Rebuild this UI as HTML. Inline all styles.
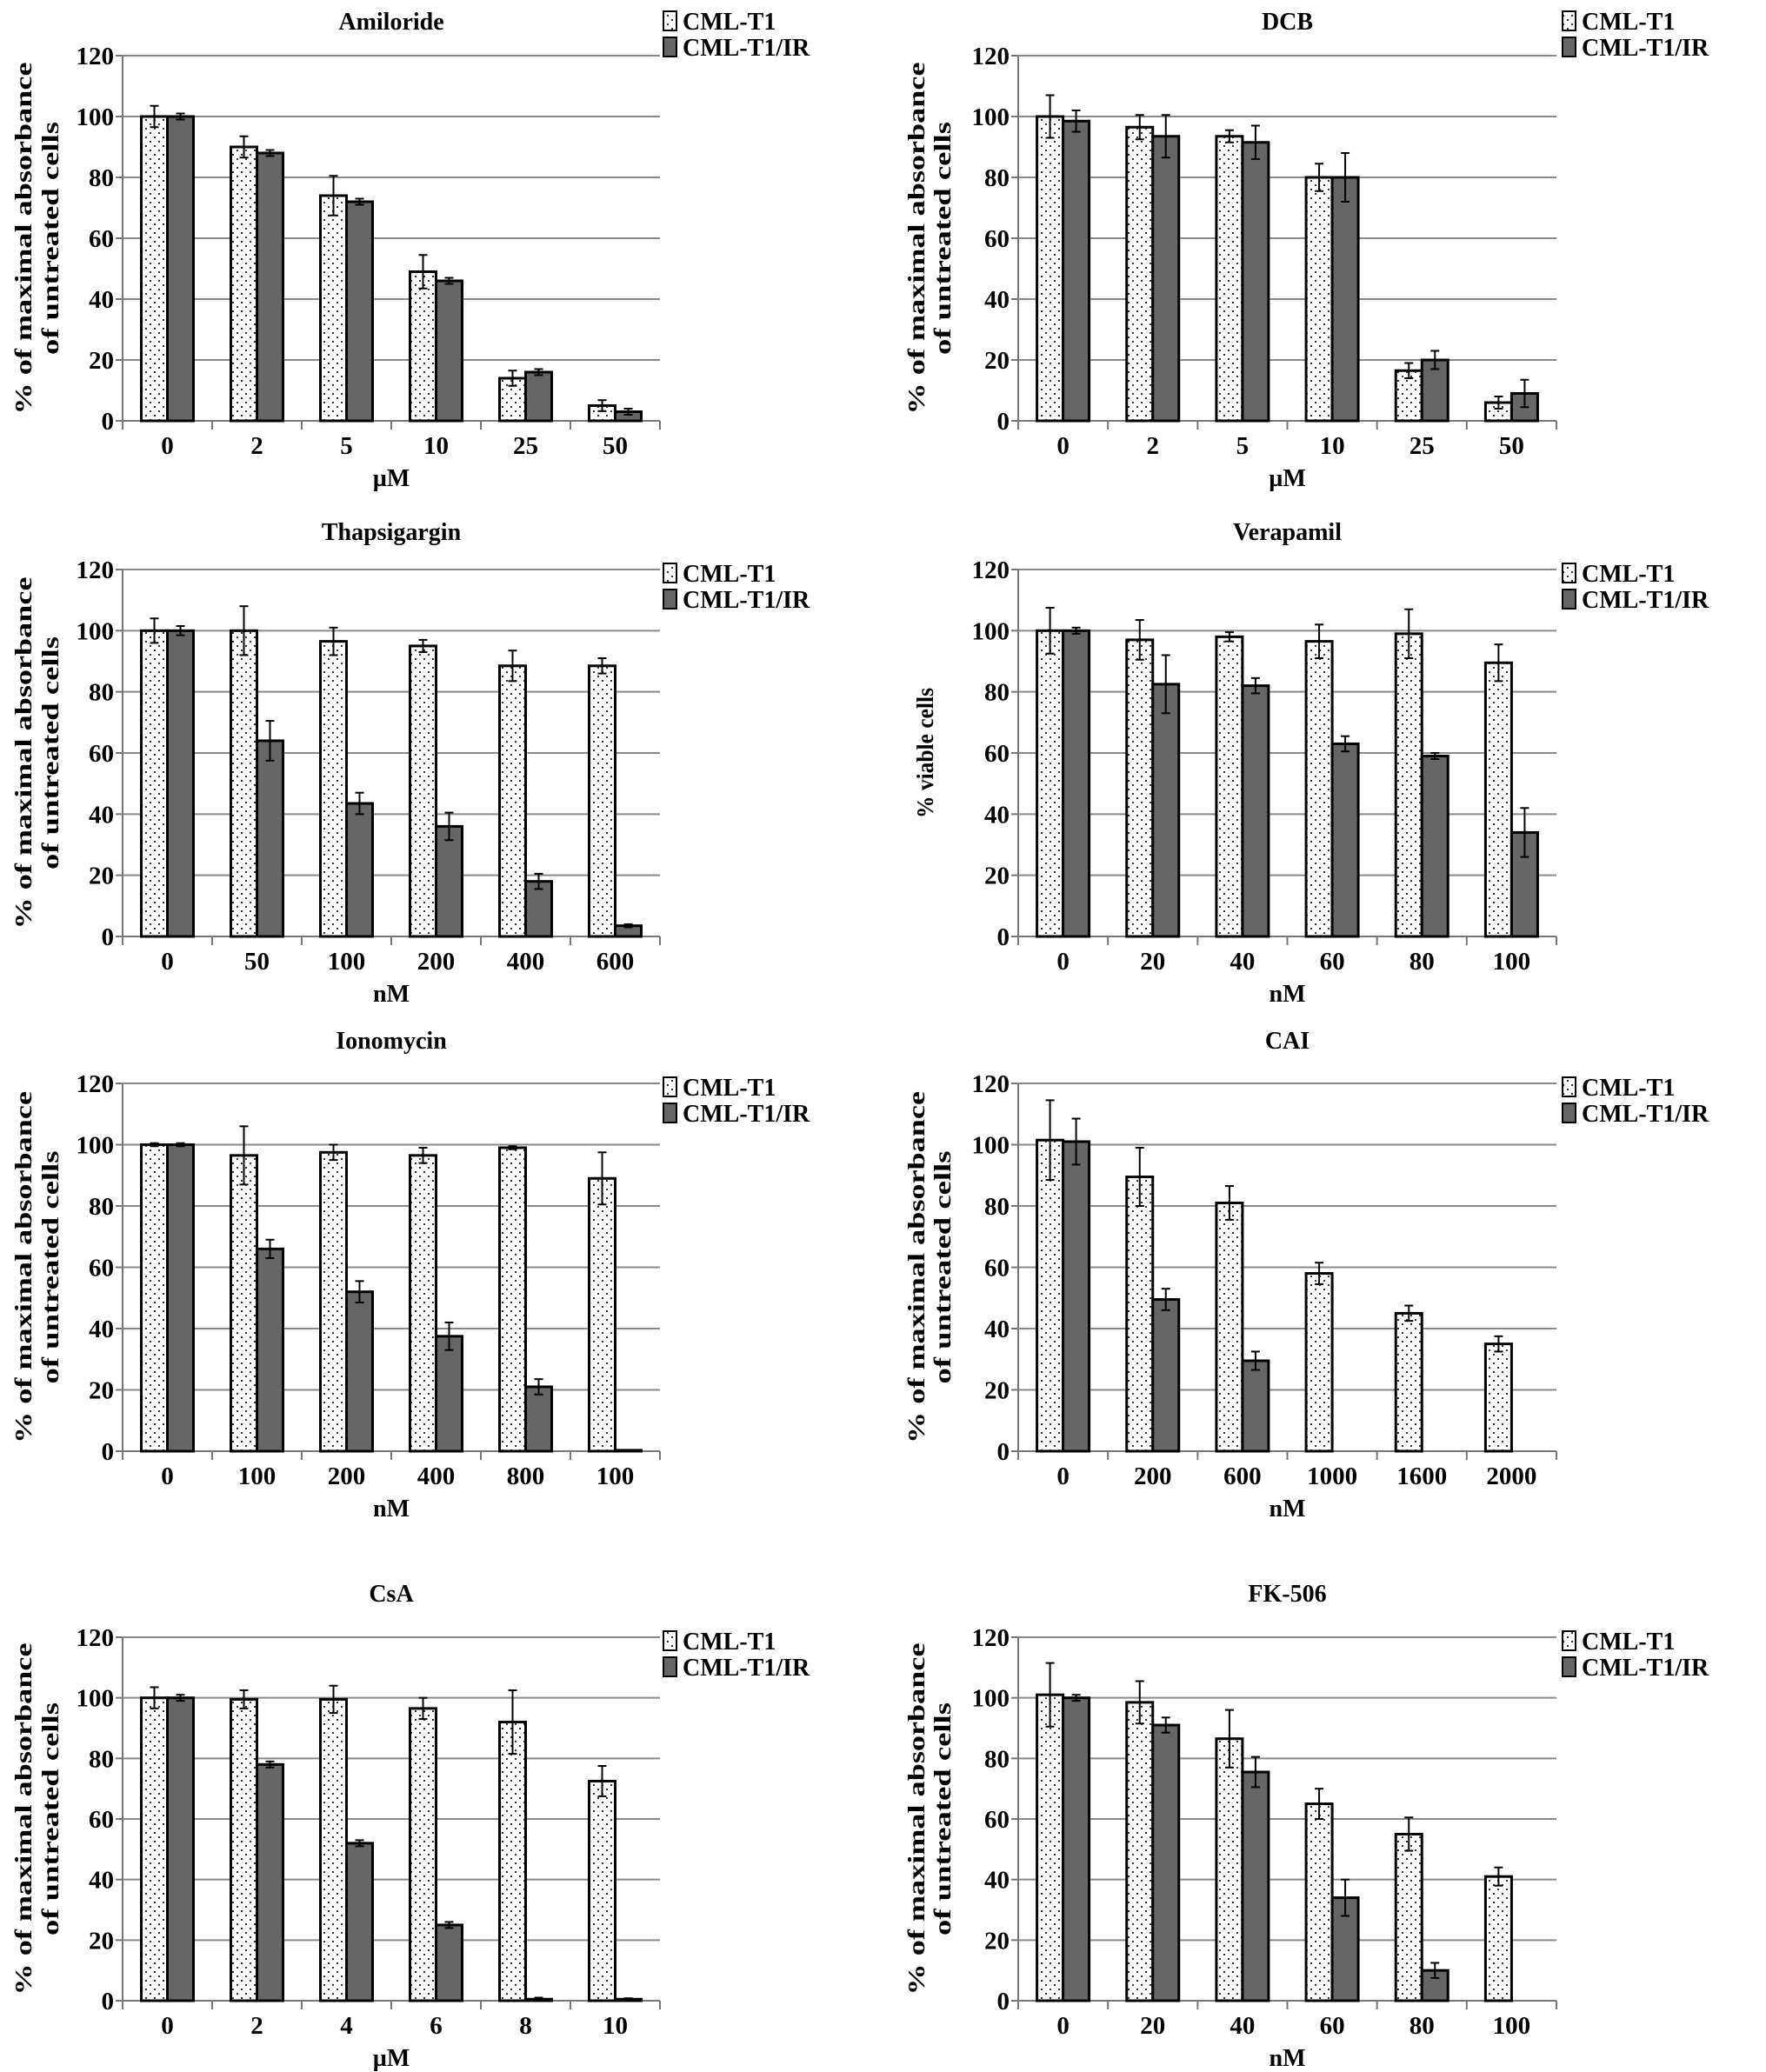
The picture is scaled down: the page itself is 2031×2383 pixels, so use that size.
<!DOCTYPE html>
<html><head><meta charset="utf-8"><style>
html,body{margin:0;padding:0;background:#fff;}
svg{display:block;font-family:"Liberation Serif",serif;font-weight:bold;}
</style></head><body>
<svg id="fig" width="2031" height="2383" viewBox="0 0 2031 2383" xmlns="http://www.w3.org/2000/svg">
<defs>
<pattern id="dots" width="10" height="10" patternUnits="userSpaceOnUse"><rect width="10" height="10" fill="#fff"/><circle cx="3" cy="3" r="1.1" fill="#222"/><circle cx="8" cy="8" r="1.1" fill="#222"/></pattern>
</defs>
</svg>
<script>
const titles=["Amiloride","DCB","Thapsigargin","Verapamil","Ionomycin","CAI","CsA","FK-506"];
const categories=[["0","2","5","10","25","50"],["0","2","5","10","25","50"],["0","50","100","200","400","600"],["0","20","40","60","80","100"],["0","100","200","400","800","100"],["0","200","600","1000","1600","2000"],["0","2","4","6","8","10"],["0","20","40","60","80","100"]];
const units=["µM","µM","nM","nM","nM","nM","µM","nM"];
const t1Values=[[100,90,74,49,14,5],[100,96.5,93.5,80,16.5,6],[100,100,96.5,95,88.5,88.5],[100,97,98,96.5,99,89.5],[100,96.5,97.5,96.5,99,89],[101.5,89.5,81,58,45,35],[100,99.5,99.5,96.5,92,72.5],[101,98.5,86.5,65,55,41]];
const t1Errors=[[3.5,3.5,6.5,5.5,2.5,1.8],[7,4,2,4.5,2.5,2],[4,8,4.5,2,5,2.5],[7.5,6.5,1.5,5.5,8,6],[0.5,9.5,2.5,2.5,0.5,8.5],[13,9.5,5.5,3.5,2.5,2.5],[3.5,3,4.5,3.5,10.5,5],[10.5,7,9.5,5,5.5,3]];
const irValues=[[100,88,72,46,16,3],[98.5,93.5,91.5,80,20,9],[100,64,43.5,36,18,3.5],[100,82.5,82,63,59,34],[100,66,52,37.5,21,0.3],[101,49.5,29.5,null,null,null],[100,78,52,25,0.5,0.5],[100,91,75.5,34,10,null]];
const irErrors=[[1,1,1,1,1,1],[3.5,7,5.5,8,3,4.5],[1.5,6.5,3.5,4.5,2.5,0.5],[1,9.5,2.5,2.5,1,8],[0.5,3,3.5,4.5,2.5,0],[7.5,3.5,3,0,0,0],[1,1,1,1,0.5,0.3],[1,2.5,5,6,2.5,0]];
const yTicks=[0,20,40,60,80,100,120];
const yLabels=["% of maximal absorbance|of untreated cells","% of maximal absorbance|of untreated cells","% of maximal absorbance|of untreated cells","% viable cells","% of maximal absorbance|of untreated cells","% of maximal absorbance|of untreated cells","% of maximal absorbance|of untreated cells","% of maximal absorbance|of untreated cells"];
// layout (not data)
const cols=[{x0:141,x1:759,lx:763,ylx:[27,58]},{x0:1171,x1:1790,lx:1797,ylx:[1054,1084]}];
const rows=[{top:64,bot:484,title:24,leg:-40},{top:655,bot:1077,title:611,leg:4},{top:1246,bot:1669,title:1196,leg:4},{top:1883,bot:2301,title:1832,leg:4}];
const NS="http://www.w3.org/2000/svg";
const svg=document.getElementById('fig');
function mk(tag,attrs,parent,text){const e=document.createElementNS(NS,tag);for(const k in attrs)e.setAttribute(k,attrs[k]);if(text!==undefined)e.textContent=text;(parent||svg).appendChild(e);return e;}
for(let p=0;p<8;p++){
  const c=cols[p%2],r=rows[Math.floor(p/2)];
  const g=mk('g',{});
  
  
  const y=v=>r.bot-(v/120)*(r.bot-r.top);
  const n=categories[p].length, cw=(c.x1-c.x0)/n;
  const xc=i=>c.x0+cw*(i+0.5);
  const t=mk('text',{x:(c.x0+c.x1)/2,y:r.title+10,'text-anchor':'middle','font-size':28},g,titles[p]);
  
  
  yTicks.forEach(v=>{
    if(v>0){const gl=mk('line',{x1:c.x0,x2:c.x1,y1:y(v),y2:y(v),stroke:'#8a8a8a','stroke-width':2},g);
      
      }
    mk('line',{x1:c.x0-8,x2:c.x0,y1:y(v),y2:y(v),stroke:'#777','stroke-width':2},g);
    const tl=mk('text',{x:c.x0-10,y:y(v)+10,'text-anchor':'end','font-size':29},g,String(v));
    
    
  });
  mk('line',{x1:c.x0,x2:c.x0,y1:r.top,y2:r.bot+10,stroke:'#777','stroke-width':2},g);
  mk('line',{x1:c.x0,x2:c.x1,y1:r.bot,y2:r.bot,stroke:'#777','stroke-width':2},g);
  for(let i=0;i<=n;i++) mk('line',{x1:c.x0+cw*i,x2:c.x0+cw*i,y1:r.bot,y2:r.bot+10,stroke:'#777','stroke-width':2},g);
  const bw=30;
  for(let i=0;i<n;i++){
    const xl=mk('text',{x:xc(i),y:r.bot+38,'text-anchor':'middle','font-size':29},g,categories[p][i]);
    
    
    [[t1Values,t1Errors,'url(#dots)',-bw],[irValues,irErrors,'#666',0]].forEach(([vals,errs,fill,off],s)=>{
      const v=vals[p][i]; if(v===null) return;
      const bx=xc(i)+off;
      const b=mk('rect',{x:bx,y:y(v),width:bw,height:r.bot-y(v),fill:fill,stroke:'#000','stroke-width':3},g);
      
      
      const e=errs[p][i];
      if(e>0){const cx=bx+bw/2;
        mk('line',{x1:cx,x2:cx,y1:y(v+e),y2:y(v-e),stroke:'#000','stroke-width':2},g);
        mk('line',{x1:cx-5,x2:cx+5,y1:y(v+e),y2:y(v+e),stroke:'#000','stroke-width':2},g);
        mk('line',{x1:cx-5,x2:cx+5,y1:y(v-e),y2:y(v-e),stroke:'#000','stroke-width':2},g);}
    });
  }
  const ax=mk('text',{x:(c.x0+c.x1)/2,y:r.bot+75,'text-anchor':'middle','font-size':28},g,units[p]);
  
  
  const lines=yLabels[p].split('|'), my=(r.top+r.bot)/2;
  lines.forEach((L,k)=>{
    const lx=lines.length===1?c.ylx[0]+10:c.ylx[k];
    const len=L.length>20?405:(L.length>15?268:150);
    const yt=mk('text',{x:0,y:0,transform:`translate(${lx+9},${my}) rotate(-90)`,'text-anchor':'middle','font-size':27,textLength:len,lengthAdjust:'spacingAndGlyphs'},g,L);
    
    
  });
  ['CML-T1','CML-T1/IR'].forEach((L,k)=>{
    const ly=r.top+r.leg+k*30;
    const sw=mk('rect',{x:c.lx,y:ly-11,width:15,height:22,fill:k?'#666':'url(#dots)',stroke:'#000','stroke-width':2},g);
    
    
    const lt=mk('text',{x:c.lx+22,y:ly+10,'font-size':28},g,L);
    
    
  });
}
</script>
</body></html>
